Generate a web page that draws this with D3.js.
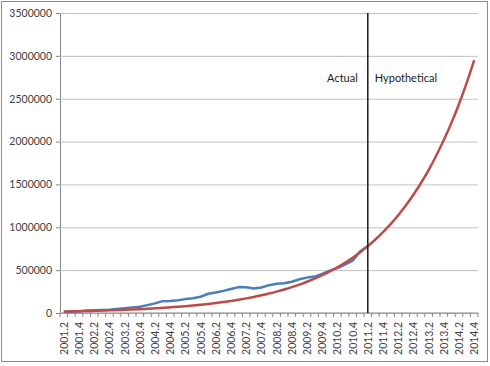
<!DOCTYPE html>
<html>
<head>
<meta charset="utf-8">
<script src="https://d3js.org/d3.v7.min.js"></script>
<style>
	body { margin: 0; background: #fff; }
	text { font-family: Lato, "Open Sans", sans-serif; }
</style>
</head>
<body>
<div id="chart"></div>
<script>

// quarters 2001.2 .. 2014.4
var years = d3.range(2001, 2015);
var quarters = [];
years.forEach(function(y){
	[1, 2, 3, 4].forEach(function(q){
		if (y == 2001 && q == 1) return;
		quarters.push(y + "." + q);
	});
});

// actual figures, 2001.2 .. 2011.2
var actual = [15000, 15000, 17000, 30000, 33000, 35000, 38000, 48000, 55000, 65000,
	73000, 92000, 112000, 138000, 140000, 150000, 162000, 172000, 190000, 225000,
	240000, 258000, 280000, 302000, 300000, 286000, 298000, 325000, 340000, 346000,
	365000, 393000, 413000, 425000, 455000, 495000, 525000, 565000, 610000, 720000,
	780000];

// fitted curve, 2001.2 .. 2014.4
var fitted = [17450, 19190, 21100, 23200, 25510, 28050, 30850, 33920, 37300, 41020,
	45110, 49620, 54560, 60000, 65980, 72560, 79790, 87740, 96490, 106100,
	116700, 128300, 141100, 155200, 170600, 187600, 206300, 226900, 249500, 274400,
	301700, 331800, 364800, 401200, 441200, 485200, 533500, 586700, 645200, 709500,
	780100, 857800, 943300, 1037300, 1140700, 1254400, 1379400, 1516900, 1668100, 1834300,
	2017200, 2218000, 2439000, 2682000, 2950000];

var yTicks = [0, 500000, 1000000, 1500000, 2000000, 2500000, 3000000, 3500000];
var splitAt = "2011.2";

function init(){

	var w = 490;
	var h = 366;
	var left = 60, right = 478, top = 13, bottom = 313;

	var svg = d3.select("#chart")
				.append("svg")
				.attr("width", w)
				.attr("height", h);

	// outer frame
	svg.append("rect")
		.attr("x", 1.5)
		.attr("y", 1.5)
		.attr("width", 486)
		.attr("height", 360)
		.attr("fill", "none")
		.attr("stroke", "#8c8c8c");

	var xScale = d3.scaleBand()
					.domain(quarters)
					.range([left, right]);

	var xPos = function(d){ return xScale(d) + xScale.bandwidth()/2; };

	var yScale = d3.scaleLinear()
					.domain([0, 3500000])
					.range([bottom, top]);

	// gridlines + y labels
	var yAxis = d3.axisLeft(yScale)
					.tickValues(yTicks)
					.tickSize(-(right - left))
					.tickPadding(8)
					.tickFormat(d3.format("d"));

	var gy = svg.append("g")
				.attr("transform", "translate(" + left + ",0)")
				.call(yAxis);
	gy.select(".domain").attr("stroke", "#868686");
	gy.selectAll(".tick line").attr("stroke", "#c0c0c0");
	gy.selectAll(".tick text")
		.attr("fill", "#404040")
		.style("font-size", "10.5px");
	// small outer tick marks
	gy.selectAll(".tick")
		.append("line")
		.attr("x1", -4)
		.attr("x2", 0)
		.attr("stroke", "#868686");

	// x axis: ticks between categories, labels every other quarter
	var gx = svg.append("g")
				.attr("transform", "translate(0," + bottom + ")");
	gx.append("line")
		.attr("x1", left)
		.attr("x2", right)
		.attr("stroke", "#868686");
	gx.selectAll("line.tk")
		.data(quarters.concat(["end"]))
		.enter()
		.append("line")
		.attr("class", "tk")
		.attr("x1", function(d, i){ return left + i*xScale.step(); })
		.attr("x2", function(d, i){ return left + i*xScale.step(); })
		.attr("y1", 0)
		.attr("y2", 4)
		.attr("stroke", "#868686");
	gx.selectAll("text")
		.data(quarters.filter(function(d, i){ return i % 2 == 0; }))
		.enter()
		.append("text")
		.text(function(d){ return d; })
		.attr("transform", function(d){
			return "translate(" + (xPos(d) + 4) + ",9) rotate(-90)";
		})
		.attr("text-anchor", "end")
		.attr("fill", "#404040")
		.style("font-size", "10.5px");

	var line = d3.line()
				.x(function(d, i){ return xPos(quarters[i]); })
				.y(function(d){ return yScale(d); });

	svg.append("path")
		.datum(actual)
		.attr("d", line)
		.attr("fill", "none")
		.attr("stroke", "#4a7ebb")
		.attr("stroke-width", 2.5)
		.attr("stroke-linejoin", "round");

	svg.append("path")
		.datum(fitted)
		.attr("d", line.curve(d3.curveMonotoneX))
		.attr("fill", "none")
		.attr("stroke", "#be4b48")
		.attr("stroke-width", 2.5)
		.attr("stroke-linejoin", "round");

	// divider between actual and hypothetical
	var sx = xPos(splitAt);
	svg.append("line")
		.attr("x1", sx)
		.attr("x2", sx)
		.attr("y1", yScale(3500000))
		.attr("y2", yScale(0))
		.attr("stroke", "#1a1a1a")
		.attr("stroke-width", 1.5);

	svg.append("text")
		.text("Actual")
		.attr("x", sx - 10)
		.attr("y", 82)
		.attr("text-anchor", "end")
		.attr("fill", "#1a1a1a")
		.style("font-size", "11px");

	svg.append("text")
		.text("Hypothetical")
		.attr("x", sx + 7)
		.attr("y", 82)
		.attr("fill", "#1a1a1a")
		.style("font-size", "11px");
}

window.onload = init;
</script>
</body>
</html>
